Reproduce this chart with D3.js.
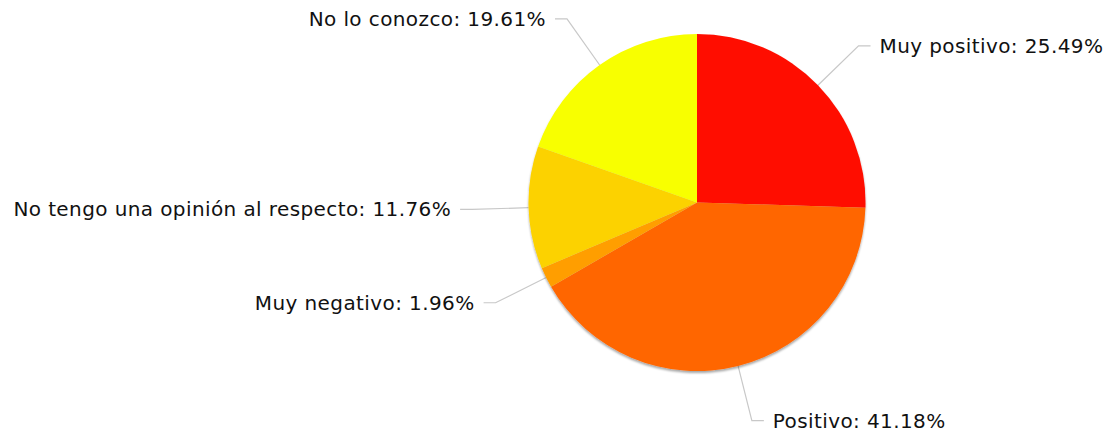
<!DOCTYPE html>
<html><head><meta charset="utf-8">
<script src="https://cdn.jsdelivr.net/npm/d3@7"></script>
<style>
html,body{margin:0;padding:0;background:#fff;}
svg{display:block;}
</style></head>
<body>
<svg id="chart" width="1118" height="432"></svg>
<script>
const categories = ["Muy positivo", "Positivo", "Muy negativo", "No tengo una opinión al respecto", "No lo conozco"];
const values = [25.49, 41.18, 1.96, 11.76, 19.61];
const colors = ["#FF0F00", "#FF6600", "#FF9E01", "#FCD202", "#F8FF01"];

const data = categories.map((c, i) => ({ label: c, value: values[i], color: colors[i] }));

const svg = d3.select("#chart");
const cx = 697, cy = 202.5, R = 168.5;
const labelR = 225, hLen = 12, gap = 9;

const defs = svg.append("defs");
const f = defs.append("filter").attr("id", "sh").attr("x", "-10%").attr("y", "-10%").attr("width", "120%").attr("height", "130%");
f.append("feDropShadow").attr("dx", 0).attr("dy", 2).attr("stdDeviation", 1.2).attr("flood-color", "#000").attr("flood-opacity", 0.35);

const pie = d3.pie().value(d => d.value).sort(null);
const arcs = pie(data);
const arc = d3.arc().innerRadius(0).outerRadius(R);

const g = svg.append("g").attr("transform", `translate(${cx},${cy})`);

// leader lines + labels
arcs.forEach(a => {
  const m = (a.startAngle + a.endAngle) / 2;
  const sx = R * Math.sin(m), sy = -R * Math.cos(m);
  const ex = labelR * Math.sin(m), ey = -labelR * Math.cos(m);
  const right = Math.sin(m) >= 0;
  const hx = ex + (right ? hLen : -hLen);
  g.append("path")
    .attr("d", `M${sx},${sy}L${ex},${ey}L${hx},${ey}`)
    .attr("fill", "none").attr("stroke", "#c8c8c8").attr("stroke-width", 1.2);
  g.append("text")
    .attr("x", hx + (right ? gap : -gap))
    .attr("y", ey)
    .attr("dy", "0.35em")
    .attr("text-anchor", right ? "start" : "end")
    .attr("font-family", "DejaVu Sans, Verdana, sans-serif")
    .attr("font-size", 20)
    .attr("letter-spacing", 0.4)
    .attr("fill", "#111")
    .text(`${a.data.label}: ${a.data.value.toFixed(2)}%`);
});

const pg = g.append("g").attr("filter", "url(#sh)");
pg.selectAll("path.slice").data(arcs).join("path")
  .attr("class", "slice")
  .attr("d", arc)
  .attr("fill", d => d.data.color);
</script>
</body></html>
